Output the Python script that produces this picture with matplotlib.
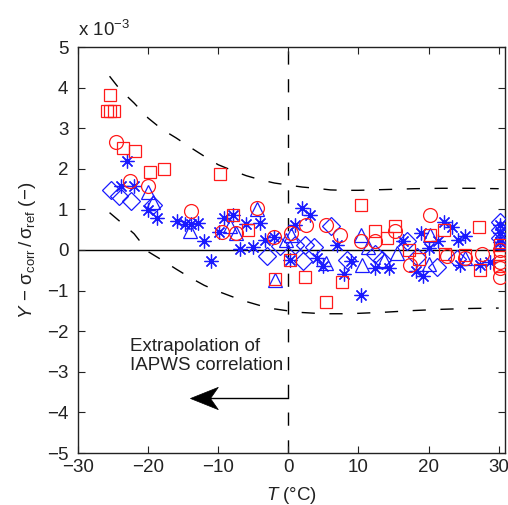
import matplotlib
matplotlib.use("Agg")
import matplotlib.pyplot as plt
from matplotlib.path import Path

plt.rcParams['font.family'] = ['Liberation Sans', 'DejaVu Sans']
plt.rcParams['mathtext.fontset'] = 'custom'
plt.rcParams['mathtext.rm'] = 'Liberation Sans'
plt.rcParams['mathtext.it'] = 'Liberation Sans:italic'
plt.rcParams['axes.unicode_minus'] = True

# ---------------- data (values in units of 1e-3) ----------------
sq_x = [-25.5, -25.8, -25.4, -24.9, -23.6, -21.9, -19.8, -17.7, -9.8, -7.9, -5.7, -1.9,
        0.2, 2.4, 5.4, 7.7, 10.4, 12.3, 14.0, 15.2, 17.2, 18.7, 20.2, 22.2, 22.4, 25.2,
        27.2, 27.3, 30.2, 30.2, 30.2]
sq_y = [3.83, 3.42, 3.42, 3.42, 2.52, 2.45, 1.91, 1.99, 1.88, 0.85, 0.50, -0.72,
        -0.24, -0.66, -1.29, -0.78, 1.12, 0.46, 0.29, 0.58, 0.0, -0.21, 0.37, 0.50, -0.11, -0.12,
        0.57, -0.49, 0.12, -0.10, -0.40]

ci_x = [-24.6, -22.6, -20.0, -13.9, -9.4, -7.4, -4.5, -2.0, 0.4, 2.5, 5.4, 7.3,
        10.4, 12.3, 15.2, 17.3, 20.2, 22.6, 25.2, 27.6, 30.2, 30.2, 30.2, 30.2]
ci_y = [2.67, 1.70, 1.58, 0.97, 0.44, 0.42, 1.03, 0.31, 0.42, 0.62, 0.61, 0.36,
        0.21, 0.22, 0.48, -0.37, 0.86, -0.16, -0.20, -0.09, 0.0, -0.30, -0.45, -0.66]

di_x = [-25.3, -24.1, -22.5, -19.3, -3.0, -1.2, 1.0, 2.1, 2.4, 3.6, 6.1, 8.4,
        12.3, 13.3, 16.9, 18.4, 21.2, 24.0, 30.2, 30.2, 30.2]
di_y = [1.49, 1.32, 1.20, 1.10, -0.14, 0.10, 0.12, -0.27, 0.12, 0.08, 0.60, -0.25,
        -0.10, -0.25, 0.21, -0.18, -0.41, -0.22, 0.70, 0.50, 0.30]

tr_x = [-20.0, -19.3, -14.0, -8.3, -7.4, -4.5, -1.9, 0.4, -0.4, 5.4, 10.4, 10.5,
        11.4, 13.7, 15.5, 20.2, 20.1, 25.2, 30.2]
tr_y = [1.42, 1.17, 0.46, 0.60, 0.42, 1.00, -0.73, 0.38, 0.25, -0.32, 0.38, -0.37,
        0.07, -0.25, -0.08, 0.37, -0.35, -0.20, 0.20]

st_x = [-23.0, -23.9, -22.0, -20.0, -18.7, -15.9, -14.8, -13.9, -12.9, -12.0, -11.1,
        -9.2, -9.9, -7.9, -6.9, -6.0, -5.0, -4.0, -3.3, -2.0, 0.2, 1.0, 2.0, 3.1, 4.1,
        4.9, 6.9, 8.0, 9.0, 10.3, 12.4, 14.4, 16.4, 18.9, 18.2, 19.2, 20.0, 21.3, 22.2,
        23.3, 24.2, 25.2, 24.5, 27.4, 28.8, 30.2, 30.2, 30.2]
st_y = [2.18, 1.58, 1.58, 0.98, 0.79, 0.71, 0.65, 0.65, 0.67, 0.21, -0.28,
        0.78, 0.45, 0.85, 0.02, 0.64, 0.07, 0.66, 0.25, 0.31, -0.24, 0.62, 1.03, 0.85, -0.20,
        -0.39, 0.12, -0.60, -0.27, -1.10, -0.45, -0.45, 0.21, 0.43, -0.52, -0.64, 0.04, 0.21, 0.69,
        0.56, 0.25, 0.35, -0.38, -0.38, -0.29, 0.62, 0.41, 0.20]

# bounds (dashed curves)
bnd_x = [-25.5, -24, -22, -20, -18, -16, -14, -12, -10, -8, -6, -4, -2, 0,
         2, 4, 6, 8, 10, 14, 18, 22, 26, 30]
up_y = [4.28, 3.95, 3.62, 3.25, 2.97, 2.76, 2.53, 2.31, 2.10, 1.96, 1.83, 1.73, 1.65, 1.60,
        1.55, 1.52, 1.48, 1.47, 1.47, 1.49, 1.51, 1.52, 1.52, 1.51]
lo_y = [0.92, 0.70, 0.40, -0.04, -0.25, -0.47, -0.68, -0.87, -1.02, -1.15, -1.27, -1.37, -1.45, -1.50,
        -1.54, -1.56, -1.57, -1.57, -1.56, -1.53, -1.49, -1.46, -1.44, -1.43]

arrow_y = -3.65
arrow_x_from, arrow_x_to = 0.0, -14.0

xticks = [-30, -20, -10, 0, 10, 20, 30]
yticks = [-5, -4, -3, -2, -1, 0, 1, 2, 3, 4, 5]

RED = '#ff1a1a'
BLUE = '#1a1aff'
FS = 13.5
TXT = '#222222'

fig = plt.figure(figsize=(5.08, 5.05), dpi=100)
ax = fig.add_axes([78/508, 52/505, 427/508, 406/505])

DASH = (0, (9.5, 10.5))
ax.axhline(0, color='black', lw=1.0, zorder=1)
ax.axvline(0, color='black', lw=1.0, ls=DASH, zorder=1)
ax.plot(bnd_x, up_y, color='black', lw=1.0, ls=DASH, zorder=1)
ax.plot(bnd_x, lo_y, color='black', lw=1.0, ls=DASH, zorder=1)

mew = 0.9
ax.plot(di_x, di_y, ls='none', marker='D', ms=8.8, mfc='none', mec=BLUE, mew=mew, zorder=3)
ax.plot(tr_x, tr_y, ls='none', marker='^', ms=10.5, mfc='none', mec=BLUE, mew=mew, zorder=3)
ax.plot(st_x, st_y, ls='none', marker=(8, 2, 0), ms=10, mfc='none', mec=BLUE, mew=mew, zorder=3)
ax.plot(sq_x, sq_y, ls='none', marker='s', ms=8.4, mfc='none', mec=RED, mew=mew, zorder=4)
ax.plot(ci_x, ci_y, ls='none', marker='o', ms=10, mfc='none', mec=RED, mew=mew, zorder=4)

# arrow shaft + MATLAB-like swept-back head (tip of the marker path at its origin)
ax.plot([arrow_x_from, arrow_x_to + 2.0], [arrow_y, arrow_y], color='black', lw=1.0, zorder=2)
head = Path([(0.0, 0.0), (1.0, 0.40), (0.72, 0.0), (1.0, -0.40), (0.0, 0.0)],
            [Path.MOVETO, Path.LINETO, Path.LINETO, Path.LINETO, Path.CLOSEPOLY])
ax.plot([arrow_x_to], [arrow_y], ls='none', marker=head, ms=40,
        mfc='black', mec='black', mew=0.5, zorder=2)

ax.text(-22.6, -2.61, 'Extrapolation of\nIAPWS correlation', fontsize=FS,
        ha='left', va='center', linespacing=1.15, color=TXT)

ax.set_xlim(-30, 30.9)
ax.set_ylim(-5, 5)
ax.set_xticks(xticks)
ax.set_yticks(yticks)
ax.tick_params(direction='in', top=True, right=True, length=5, width=0.8,
               labelsize=FS, colors=TXT)
ax.tick_params(axis='x', pad=4)
ax.tick_params(axis='y', pad=7)
for s in ax.spines.values():
    s.set_linewidth(1.0)
    s.set_color(TXT)

ax.set_xlabel(r'$\mathit{T}$ (°C)', fontsize=FS, labelpad=7, color=TXT)
ax.set_ylabel(r'$\mathit{Y}\,−\,\mathrm{σ}_{\mathrm{corr}}\,/\,\mathrm{σ}_{\mathrm{ref}}$ (−)',
              fontsize=FS, labelpad=6, color=TXT)
fig.text(78/508, 1 - 36/505, r'x 10$^{−3}$', fontsize=FS, ha='left', va='baseline',
         color=TXT)

fig.savefig('out.png', dpi=100)
